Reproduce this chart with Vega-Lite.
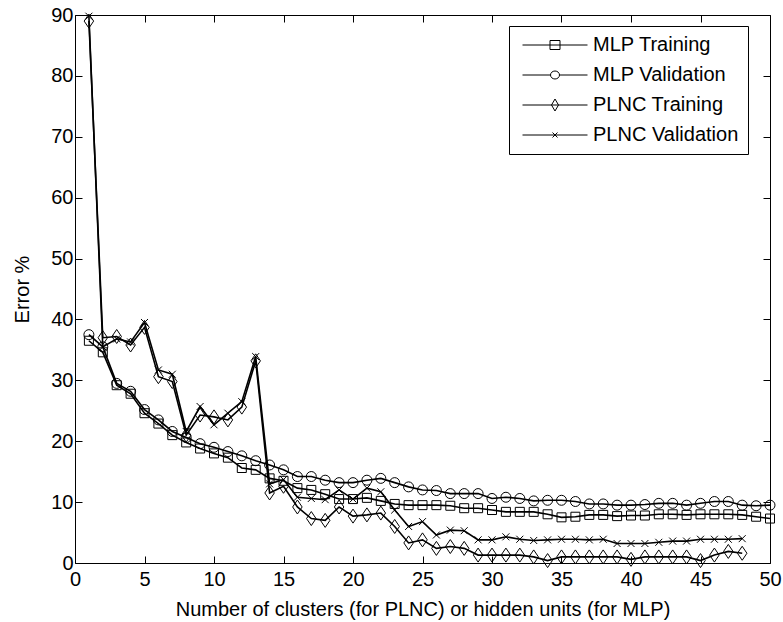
{
  "$schema": "https://vega.github.io/schema/vega-lite/v6.json",
  "width": 695,
  "height": 548,
  "autosize": {"type": "none"},
  "padding": {"left": 75, "top": 15, "right": 13, "bottom": 59},
  "background": "white",
  "config": {
    "view": {"stroke": null},
    "font": "Liberation Sans",
    "axis": {
      "domainColor": "black",
      "domainWidth": 1,
      "tickColor": "black",
      "tickWidth": 1,
      "tickSize": -7,
      "labelColor": "black",
      "labelFont": "Liberation Sans",
      "labelFontSize": 20,
      "titleFont": "Liberation Sans",
      "titleFontSize": 20,
      "titleFontWeight": "normal",
      "titleColor": "black",
      "grid": false,
      "labelFlush": false,
      "labelOverlap": false
    }
  },
  "data": {
    "values": [
      {"n":1,"s":"MLP Training","e":36.5},{"n":2,"s":"MLP Training","e":34.6},{"n":3,"s":"MLP Training","e":29.2},{"n":4,"s":"MLP Training","e":27.8},{"n":5,"s":"MLP Training","e":24.6},{"n":6,"s":"MLP Training","e":22.9},{"n":7,"s":"MLP Training","e":21.0},{"n":8,"s":"MLP Training","e":19.8},{"n":9,"s":"MLP Training","e":18.8},{"n":10,"s":"MLP Training","e":18.0},
      {"n":11,"s":"MLP Training","e":17.3},{"n":12,"s":"MLP Training","e":15.6},{"n":13,"s":"MLP Training","e":15.3},{"n":14,"s":"MLP Training","e":13.9},{"n":15,"s":"MLP Training","e":13.5},{"n":16,"s":"MLP Training","e":12.3},{"n":17,"s":"MLP Training","e":12.0},{"n":18,"s":"MLP Training","e":11.3},{"n":19,"s":"MLP Training","e":10.5},{"n":20,"s":"MLP Training","e":10.5},
      {"n":21,"s":"MLP Training","e":10.7},{"n":22,"s":"MLP Training","e":10.2},{"n":23,"s":"MLP Training","e":9.7},{"n":24,"s":"MLP Training","e":9.5},{"n":25,"s":"MLP Training","e":9.5},{"n":26,"s":"MLP Training","e":9.5},{"n":27,"s":"MLP Training","e":9.4},{"n":28,"s":"MLP Training","e":9.0},{"n":29,"s":"MLP Training","e":9.0},{"n":30,"s":"MLP Training","e":8.7},
      {"n":31,"s":"MLP Training","e":8.4},{"n":32,"s":"MLP Training","e":8.4},{"n":33,"s":"MLP Training","e":8.4},{"n":34,"s":"MLP Training","e":8.0},{"n":35,"s":"MLP Training","e":7.5},{"n":36,"s":"MLP Training","e":7.6},{"n":37,"s":"MLP Training","e":7.9},{"n":38,"s":"MLP Training","e":7.9},{"n":39,"s":"MLP Training","e":7.7},{"n":40,"s":"MLP Training","e":7.8},
      {"n":41,"s":"MLP Training","e":7.8},{"n":42,"s":"MLP Training","e":8.0},{"n":43,"s":"MLP Training","e":8.0},{"n":44,"s":"MLP Training","e":7.9},{"n":45,"s":"MLP Training","e":8.0},{"n":46,"s":"MLP Training","e":8.0},{"n":47,"s":"MLP Training","e":8.0},{"n":48,"s":"MLP Training","e":7.9},{"n":49,"s":"MLP Training","e":7.6},{"n":50,"s":"MLP Training","e":7.3},

      {"n":1,"s":"MLP Validation","e":37.5},{"n":2,"s":"MLP Validation","e":35.5},{"n":3,"s":"MLP Validation","e":29.5},{"n":4,"s":"MLP Validation","e":28.2},{"n":5,"s":"MLP Validation","e":25.2},{"n":6,"s":"MLP Validation","e":23.5},{"n":7,"s":"MLP Validation","e":21.6},{"n":8,"s":"MLP Validation","e":20.6},{"n":9,"s":"MLP Validation","e":19.6},{"n":10,"s":"MLP Validation","e":19.0},
      {"n":11,"s":"MLP Validation","e":18.3},{"n":12,"s":"MLP Validation","e":17.6},{"n":13,"s":"MLP Validation","e":16.8},{"n":14,"s":"MLP Validation","e":16.1},{"n":15,"s":"MLP Validation","e":15.3},{"n":16,"s":"MLP Validation","e":14.2},{"n":17,"s":"MLP Validation","e":14.2},{"n":18,"s":"MLP Validation","e":13.6},{"n":19,"s":"MLP Validation","e":13.2},{"n":20,"s":"MLP Validation","e":13.2},
      {"n":21,"s":"MLP Validation","e":13.6},{"n":22,"s":"MLP Validation","e":13.9},{"n":23,"s":"MLP Validation","e":13.2},{"n":24,"s":"MLP Validation","e":12.5},{"n":25,"s":"MLP Validation","e":12.0},{"n":26,"s":"MLP Validation","e":11.9},{"n":27,"s":"MLP Validation","e":11.4},{"n":28,"s":"MLP Validation","e":11.4},{"n":29,"s":"MLP Validation","e":11.4},{"n":30,"s":"MLP Validation","e":10.6},
      {"n":31,"s":"MLP Validation","e":10.8},{"n":32,"s":"MLP Validation","e":10.6},{"n":33,"s":"MLP Validation","e":10.2},{"n":34,"s":"MLP Validation","e":10.3},{"n":35,"s":"MLP Validation","e":10.3},{"n":36,"s":"MLP Validation","e":10.1},{"n":37,"s":"MLP Validation","e":9.7},{"n":38,"s":"MLP Validation","e":9.7},{"n":39,"s":"MLP Validation","e":9.5},{"n":40,"s":"MLP Validation","e":9.5},
      {"n":41,"s":"MLP Validation","e":9.6},{"n":42,"s":"MLP Validation","e":9.8},{"n":43,"s":"MLP Validation","e":9.8},{"n":44,"s":"MLP Validation","e":9.5},{"n":45,"s":"MLP Validation","e":9.8},{"n":46,"s":"MLP Validation","e":10.1},{"n":47,"s":"MLP Validation","e":10.1},{"n":48,"s":"MLP Validation","e":9.5},{"n":49,"s":"MLP Validation","e":9.4},{"n":50,"s":"MLP Validation","e":9.5},

      {"n":1,"s":"PLNC Training","e":89.0},{"n":2,"s":"PLNC Training","e":37.0},{"n":3,"s":"PLNC Training","e":37.2},{"n":4,"s":"PLNC Training","e":35.8},{"n":5,"s":"PLNC Training","e":38.7},{"n":6,"s":"PLNC Training","e":30.6},{"n":7,"s":"PLNC Training","e":29.8},{"n":8,"s":"PLNC Training","e":21.0},{"n":9,"s":"PLNC Training","e":24.3},{"n":10,"s":"PLNC Training","e":24.0},
      {"n":11,"s":"PLNC Training","e":23.5},{"n":12,"s":"PLNC Training","e":25.6},{"n":13,"s":"PLNC Training","e":33.2},{"n":14,"s":"PLNC Training","e":11.5},{"n":15,"s":"PLNC Training","e":12.6},{"n":16,"s":"PLNC Training","e":9.2},{"n":17,"s":"PLNC Training","e":7.3},{"n":18,"s":"PLNC Training","e":7.0},{"n":19,"s":"PLNC Training","e":9.2},{"n":20,"s":"PLNC Training","e":7.7},
      {"n":21,"s":"PLNC Training","e":7.9},{"n":22,"s":"PLNC Training","e":8.2},{"n":23,"s":"PLNC Training","e":6.0},{"n":24,"s":"PLNC Training","e":3.3},{"n":25,"s":"PLNC Training","e":3.8},{"n":26,"s":"PLNC Training","e":2.4},{"n":27,"s":"PLNC Training","e":2.7},{"n":28,"s":"PLNC Training","e":2.4},{"n":29,"s":"PLNC Training","e":1.3},{"n":30,"s":"PLNC Training","e":1.3},
      {"n":31,"s":"PLNC Training","e":1.3},{"n":32,"s":"PLNC Training","e":1.3},{"n":33,"s":"PLNC Training","e":1.0},{"n":34,"s":"PLNC Training","e":0.4},{"n":35,"s":"PLNC Training","e":1.0},{"n":36,"s":"PLNC Training","e":1.0},{"n":37,"s":"PLNC Training","e":1.0},{"n":38,"s":"PLNC Training","e":1.0},{"n":39,"s":"PLNC Training","e":1.0},{"n":40,"s":"PLNC Training","e":0.6},
      {"n":41,"s":"PLNC Training","e":1.0},{"n":42,"s":"PLNC Training","e":1.0},{"n":43,"s":"PLNC Training","e":1.0},{"n":44,"s":"PLNC Training","e":1.0},{"n":45,"s":"PLNC Training","e":0.4},{"n":46,"s":"PLNC Training","e":1.3},{"n":47,"s":"PLNC Training","e":1.9},{"n":48,"s":"PLNC Training","e":1.6},

      {"n":1,"s":"PLNC Validation","e":89.8},{"n":2,"s":"PLNC Validation","e":35.5},{"n":3,"s":"PLNC Validation","e":36.8},{"n":4,"s":"PLNC Validation","e":36.3},{"n":5,"s":"PLNC Validation","e":39.5},{"n":6,"s":"PLNC Validation","e":31.7},{"n":7,"s":"PLNC Validation","e":31.0},{"n":8,"s":"PLNC Validation","e":21.6},{"n":9,"s":"PLNC Validation","e":25.7},{"n":10,"s":"PLNC Validation","e":22.7},
      {"n":11,"s":"PLNC Validation","e":24.6},{"n":12,"s":"PLNC Validation","e":26.5},{"n":13,"s":"PLNC Validation","e":33.9},{"n":14,"s":"PLNC Validation","e":13.0},{"n":15,"s":"PLNC Validation","e":13.7},{"n":16,"s":"PLNC Validation","e":10.8},{"n":17,"s":"PLNC Validation","e":10.6},{"n":18,"s":"PLNC Validation","e":10.4},{"n":19,"s":"PLNC Validation","e":12.0},{"n":20,"s":"PLNC Validation","e":10.5},
      {"n":21,"s":"PLNC Validation","e":12.3},{"n":22,"s":"PLNC Validation","e":11.7},{"n":23,"s":"PLNC Validation","e":8.7},{"n":24,"s":"PLNC Validation","e":6.0},{"n":25,"s":"PLNC Validation","e":6.8},{"n":26,"s":"PLNC Validation","e":4.6},{"n":27,"s":"PLNC Validation","e":5.4},{"n":28,"s":"PLNC Validation","e":5.3},{"n":29,"s":"PLNC Validation","e":3.8},{"n":30,"s":"PLNC Validation","e":3.8},
      {"n":31,"s":"PLNC Validation","e":4.3},{"n":32,"s":"PLNC Validation","e":3.9},{"n":33,"s":"PLNC Validation","e":3.7},{"n":34,"s":"PLNC Validation","e":3.8},{"n":35,"s":"PLNC Validation","e":3.9},{"n":36,"s":"PLNC Validation","e":3.9},{"n":37,"s":"PLNC Validation","e":3.8},{"n":38,"s":"PLNC Validation","e":3.9},{"n":39,"s":"PLNC Validation","e":3.2},{"n":40,"s":"PLNC Validation","e":3.2},
      {"n":41,"s":"PLNC Validation","e":3.2},{"n":42,"s":"PLNC Validation","e":3.4},{"n":43,"s":"PLNC Validation","e":3.6},{"n":44,"s":"PLNC Validation","e":3.6},{"n":45,"s":"PLNC Validation","e":3.9},{"n":46,"s":"PLNC Validation","e":3.9},{"n":47,"s":"PLNC Validation","e":3.9},{"n":48,"s":"PLNC Validation","e":4.0}
    ]
  },
  "layer": [
    {
      "encoding": {
        "x": {
          "field": "n", "type": "quantitative",
          "scale": {"domain": [0, 50], "nice": false, "zero": false},
          "axis": {"orient": "bottom", "values": [0,5,10,15,20,25,30,35,40,45,50], "labelPadding": 13, "title": "Number of clusters (for PLNC) or hidden units (for MLP)", "titlePadding": 10}
        },
        "y": {
          "field": "e", "type": "quantitative",
          "scale": {"domain": [0, 90], "nice": false, "zero": false},
          "axis": {"orient": "left", "values": [0,10,20,30,40,50,60,70,80,90], "labelPadding": 9, "title": "Error %", "titlePadding": 18}
        }
      },
      "layer": [
        {
          "mark": {"type": "line", "color": "black", "strokeWidth": 1.6},
          "encoding": {"detail": {"field": "s"}}
        },
        {
          "mark": {"type": "point", "filled": false, "color": "black", "strokeWidth": 1, "opacity": 1, "size": 100},
          "encoding": {
            "shape": {
              "field": "s", "type": "nominal",
              "scale": {
                "domain": ["MLP Training", "MLP Validation", "PLNC Training", "PLNC Validation"],
                "range": [
                  "M-0.9,-0.9L0.9,-0.9L0.9,0.9L-0.9,0.9Z",
                  "M-1,0A1,1,0,1,0,1,0A1,1,0,1,0,-1,0Z",
                  "M0,-1.4L0.95,0L0,1.4L-0.95,0Z",
                  "M-0.7,-0.7L0.7,0.7M-0.7,0.7L0.7,-0.7"
                ]
              },
              "legend": null
            }
          }
        },
        {
          "transform": [{"filter": "datum.n < 0"}],
          "mark": {"type": "point", "filled": false, "color": "black", "strokeWidth": 1, "opacity": 1, "size": 100},
          "encoding": {
            "shape": {
              "field": "s", "type": "nominal",
              "scale": {
                "domain": ["MLP Training", "MLP Validation", "PLNC Training", "PLNC Validation"],
                "range": [
                  "M-6.5,0L6.5,0M-1,-0.9L1,-0.9L1,0.9L-1,0.9Z",
                  "M-6.5,0L-0.9,0A0.9,0.8,0,1,0,0.9,0A0.9,0.8,0,1,0,-0.9,0M0.9,0L6.5,0",
                  "M-6.5,0L6.5,0M0,-1.2L0.7,0L0,1.2L-0.7,0Z",
                  "M-6.5,0L6.5,0M-0.5,-0.5L0.5,0.5M-0.5,0.5L0.5,-0.5"
                ]
              },
              "legend": {
                "orient": "none",
                "legendX": 434,
                "legendY": 11,
                "title": null,
                "strokeColor": "black",
                "fillColor": "white",
                "padding": 9,
                "rowPadding": 10,
                "symbolSize": 100,
                "symbolOffset": 27,
                "labelOffset": 28,
                "symbolStrokeColor": "black",
                "symbolFillColor": "transparent",
                "symbolStrokeWidth": 1,
                "symbolOpacity": 1,
                "labelFont": "Liberation Sans",
                "labelFontSize": 20,
                "labelColor": "black",
                "labelLimit": 300
              }
            }
          }
        }
      ],
      "resolve": {"scale": {"shape": "independent"}}
    },
    {
      "mark": {"type": "point", "opacity": 0},
      "encoding": {
        "x": {
          "field": "n", "type": "quantitative",
          "scale": {"domain": [0, 50], "nice": false, "zero": false},
          "axis": {"orient": "top", "values": [0,5,10,15,20,25,30,35,40,45,50], "labels": false, "title": null}
        },
        "y": {
          "field": "e", "type": "quantitative",
          "scale": {"domain": [0, 90], "nice": false, "zero": false},
          "axis": {"orient": "right", "values": [0,10,20,30,40,50,60,70,80,90], "labels": false, "title": null}
        }
      }
    }
  ],
  "resolve": {"axis": {"x": "independent", "y": "independent"}}
}
